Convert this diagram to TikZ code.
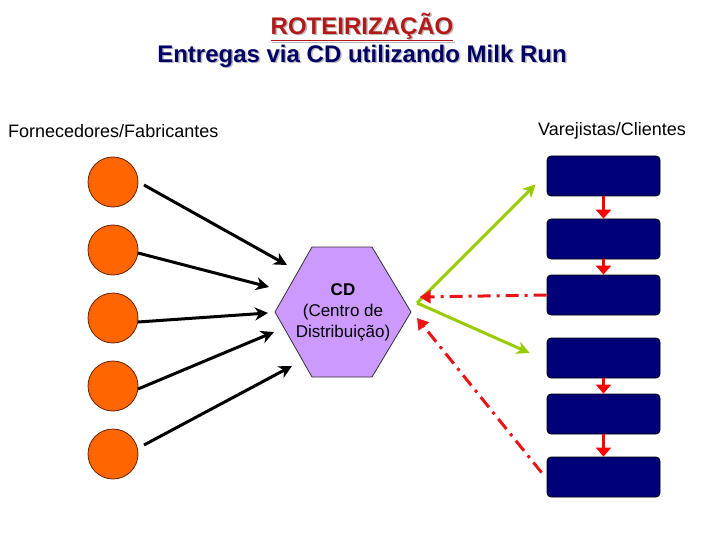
\documentclass[tikz,border=0pt]{standalone}
\usepackage{fontspec}
\setmainfont{Liberation Sans}
\usetikzlibrary{calc}
\usetikzlibrary{arrows.meta}

\definecolor{titred}{RGB}{180,24,24}
\definecolor{navytxt}{RGB}{0,0,102}
\definecolor{shadowgray}{RGB}{185,185,185}
\definecolor{fornorange}{RGB}{255,102,0}
\definecolor{fornedge}{RGB}{102,34,0}
\definecolor{cdlilac}{RGB}{204,153,255}
\definecolor{clinavy}{RGB}{0,0,120}
\definecolor{milkgreen}{RGB}{153,204,0}
\definecolor{retred}{RGB}{235,20,20}

\tikzset{
  bigtxt/.style={font=\fontsize{24}{28}\selectfont\bfseries, inner sep=0},
  labtxt/.style={font=\fontsize{18}{22}\selectfont, inner sep=0},
  forn/.style={circle, minimum size=50pt, inner sep=0, fill=fornorange, draw=fornedge, line width=.8pt},
  cli/.style={rectangle, rounded corners=4pt, minimum width=113pt, minimum height=40pt, inner sep=0, fill=clinavy, draw=black, line width=.8pt},
  cdtext/.style={align=center, font=\fontsize{17}{21}\selectfont, inner sep=0},
  blk/.style={black, line width=3pt, ->, >={Stealth[length=13pt,width=13pt,inset=4pt]}},
  grn/.style={milkgreen, line width=3pt, ->, >={Stealth[length=13pt,width=13pt,inset=4pt]}},
  ret/.style={retred, line width=3pt, ->, >={Triangle[length=11pt,width=13pt]}, dash pattern=on 13pt off 6pt on 3pt off 6pt},
  seq/.style={red, line width=3pt, ->, >={Triangle[length=9pt,width=15pt]}}
}

\begin{document}
\begin{tikzpicture}[x=1pt,y=-1pt]
\useasboundingbox (0,0) rectangle (720,540);
\node[bigtxt, text=shadowgray] (tsh) at (363.5,28.5) {\underline{ROTEIRIZAÇÃO}};
\node[bigtxt, text=titred] (tit) at (362,27) {\underline{ROTEIRIZAÇÃO}};
\node[bigtxt, text=shadowgray] (ssh) at (363.5,57.5) {Entregas via CD utilizando Milk Run};
\node[bigtxt, text=navytxt] (sub) at (362,56) {Entregas via CD utilizando Milk Run};
\node[labtxt, anchor=west] (lforn) at (8,131) {Fornecedores/Fabricantes};
\node[labtxt, anchor=east] (lcli) at (686,131) {Varejistas/Clientes};

\foreach \i in {1,...,5} {
 \node[forn] (s\i) at (113,{114+68*\i}) {};
}
\foreach \i/\y in {1/176,2/239,3/295,4/358,5/414,6/477} {
 \node[cli] (c\i) at (603.5,\y) {};
}

\coordinate (m) at (343,312);
\draw[fill=cdlilac, draw=black!80, line width=.8pt] ($(m)+(-68,0)$) --++(37,-65) --++(60,0) --++(39,65) --++(-39,65) --++(-60,0) -- cycle;
\node[cdtext] (cd) at (m) {\textbf{CD}\\(Centro de\\Distribuição)};

\foreach \i/\dx/\dy/\ex/\ey in {1/31/3/-56/-47, 2/25/3/-74/-25, 3/25/4/-75/1, 4/25/3/-69/20, 5/31/-9/-51/54} {
 \draw[blk] ($(s\i)+(\dx,\dy)$) -- ($(cd)+(\ex,\ey)$);
}

\draw[grn] ($(cd)+(74,-9)$) -- ($(c1.south west)+(-11,-12)$);
\draw[grn] ($(cd)+(74,-9)$) -- ($(c4.west)+(-17,-5)$);

\draw[ret] (c3.west) -- ($(c3.west)+(-127,2)$);
\draw[ret] ($(c6.north west)+(-5,16)$) -- ($(cd)+(74,6)$);

\foreach \a/\b in {1/2,2/3,4/5,5/6} {
 \draw[seq] (c\a) -- (c\b);
}
\end{tikzpicture}
\end{document}
